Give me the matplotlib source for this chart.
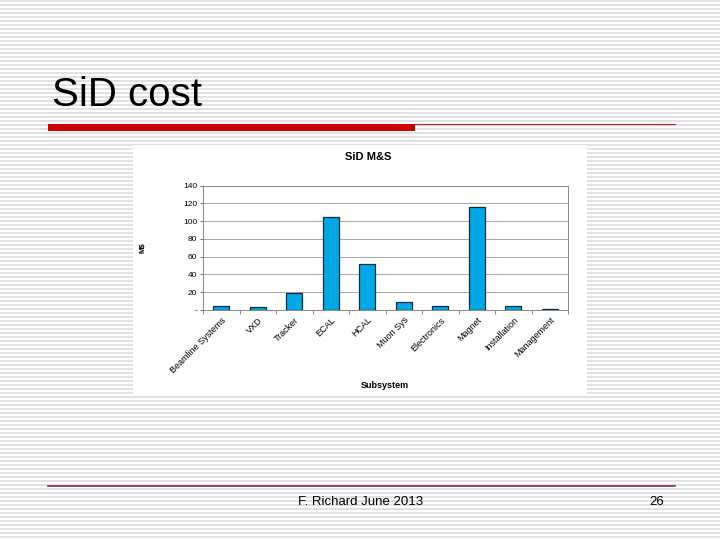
import matplotlib.pyplot as plt
from matplotlib.patches import Rectangle
import numpy as np

# data
subsystems = ['Beamline Systems', 'VXD', 'Tracker', 'ECAL', 'HCAL', 'Muon Sys',
              'Electronics', 'Magnet', 'Installation', 'Management']
cost = [4, 3, 19, 105, 52, 9, 5, 116, 4, 1]
yticks = [0, 20, 40, 60, 80, 100, 120, 140]
ytick_labels = ['-', '20', '40', '60', '80', '100', '120', '140']

fig = plt.figure(figsize=(7.2, 5.4), dpi=100)

# slide background (striped)
bg = fig.add_axes([0, 0, 1, 1])
bg.set_xlim(0, 720)
bg.set_ylim(540, 0)
bg.axis('off')
bg.hlines(np.arange(1, 540, 4), 0, 720, color='#dcdcdc', lw=1.2, zorder=1)

# title and rules
bg.text(52, 95, 'SiD cost', fontsize=29, family='Liberation Sans', va='center', ha='left')
bg.add_patch(Rectangle((48, 124), 367, 7, facecolor='#cc0000', lw=0, zorder=3))
bg.plot([415, 675], [124, 124], color='#b03030', lw=0.9, zorder=3)
bg.plot([48, 675], [486, 486], color='#6b1f2a', lw=1.1, zorder=3)
bg.text(361, 502, 'F. Richard June 2013', fontsize=9.5, family='Liberation Sans', ha='center', va='center')
bg.text(657, 502, '26', fontsize=9.5, family='Liberation Sans', ha='center', va='center')

# white chart picture
bg.add_patch(Rectangle((133, 145), 454, 250, facecolor='white', lw=0, zorder=3))

ax = fig.add_axes([203 / 720, 1 - 310 / 540, 365 / 720, 124.3 / 540])
x = np.arange(len(subsystems))
ax.bar(x, cost, width=0.43, color='#00a9e6', edgecolor='#0a2a40', linewidth=0.9, zorder=3)
ax.set_xlim(-0.5, len(subsystems) - 0.5)
ax.set_ylim(0, 140)
ax.set_yticks(yticks)
ax.set_yticklabels(ytick_labels, fontsize=6, family='Liberation Sans')
ax.yaxis.grid(True, color='#999999', lw=0.6, zorder=0)
ax.set_xticks(x)
ax.set_xticklabels(subsystems, rotation=45, ha='right', rotation_mode='anchor',
                   fontsize=6.5, family='Liberation Sans')
ax.tick_params(axis='x', length=0, pad=4)
ax.tick_params(axis='y', length=2, pad=2, color='#777777')
ax.set_xticks(np.arange(-0.5, len(subsystems)), minor=True)
ax.tick_params(axis='x', which='minor', length=3, color='#777777')
for s in ax.spines.values():
    s.set_color('#888888')
    s.set_linewidth(0.7)
ax.set_facecolor('white')

bg.text(368, 157, 'SiD M&S', fontsize=8, fontweight='bold', family='Liberation Sans',
        ha='center', va='center', zorder=4)
bg.text(143, 248, 'M$', fontsize=5.5, fontweight='bold', family='Liberation Sans', rotation=90,
        ha='center', va='center', zorder=4)
bg.text(385, 385, 'Subsystem', fontsize=6.5, fontweight='bold', family='Liberation Sans',
        ha='center', va='center', zorder=4)

fig.savefig('out.png', dpi=100)
